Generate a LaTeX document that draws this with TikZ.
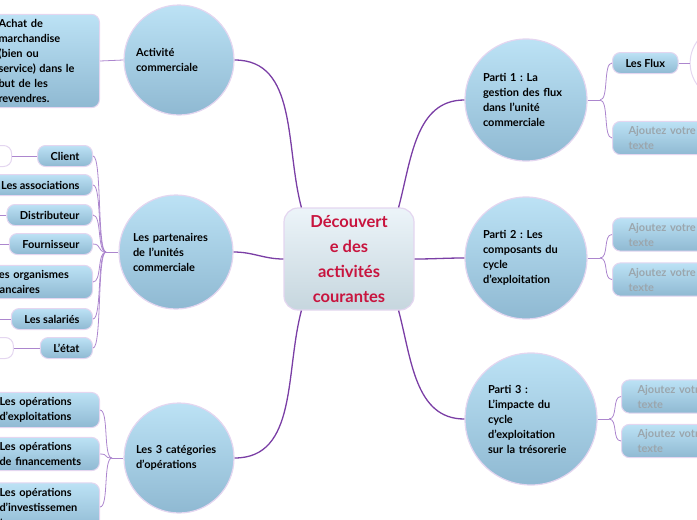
\documentclass[tikz,border=0pt]{standalone}
\usepackage{fontspec}
\setmainfont{Lato}
\frenchspacing
\usetikzlibrary{positioning}
\definecolor{BranchPurple}{RGB}{122,62,165}
\definecolor{TwigPurple}{RGB}{172,134,206}
\definecolor{SoftLavender}{RGB}{228,214,240}
\definecolor{SkyTop}{RGB}{188,226,245}
\definecolor{SkyBottom}{RGB}{143,185,210}
\definecolor{MistTop}{RGB}{236,244,249}
\definecolor{MistBottom}{RGB}{198,214,222}
\definecolor{TitleRed}{RGB}{200,20,62}
\definecolor{HintGrey}{RGB}{155,166,173}
\tikzset{
  central/.style={draw=SoftLavender,line width=1.2pt,rounded corners=14pt,
    top color=MistTop,bottom color=MistBottom,minimum width=130pt,
    minimum height=102pt,align=center,text=TitleRed,
    font=\fontsize{16.5}{25}\selectfont\bfseries},
  topic/.style={circle,draw=SoftLavender,line width=1.2pt,top color=SkyTop,
    bottom color=SkyBottom,inner sep=0pt,text width=86pt,align=left,
    font=\fontsize{11}{15}\selectfont\bfseries},
  leaf/.style={draw=SoftLavender,line width=1pt,rounded corners=8pt,
    top color=SkyTop,bottom color=SkyBottom,inner xsep=13pt,inner ysep=5pt,
    minimum height=21pt,font=\fontsize{11}{15}\selectfont\bfseries},
  hint/.style={leaf,inner xsep=16pt,text width=90pt,align=left,text=HintGrey},
  blank/.style={draw=SoftLavender,line width=1pt,fill=white,rounded corners=8pt,
    minimum height=21pt,minimum width=40pt},
  branch/.style={BranchPurple,line width=1.3pt},
  twig/.style={TwigPurple,line width=0.8pt}
}
\begin{document}
\begin{tikzpicture}[x=1pt,y=1pt]
  \useasboundingbox (0,0) rectangle (697,-520);
  \clip (0,0) rectangle (697,-520);

  \node[central] (root) at (349,-259) {Découvert\\e des\\activités\\courantes};

  \node[topic,minimum size=110pt] (act) at (179,-60) {Activité\\commerciale};
  \node[topic,minimum size=114pt] (part) at (176,-252) {Les partenaires\\de l'unités\\commerciale};
  \node[topic,minimum size=110pt] (cat) at (179,-458) {Les 3 catégories\\d'opérations};
  \node[topic,minimum size=122pt] (p1) at (526,-100) {Parti 1 : La\\gestion des flux\\dans l'unité\\commerciale};
  \node[topic,minimum size=122pt] (p2) at (526,-258) {Parti 2 : Les\\composants du\\cycle\\d'exploitation};
  \node[topic,minimum size=132pt] (p3) at (531,-419) {Parti 3 :\\L'impacte du\\cycle\\d'exploitation\\sur la trésorerie};

  \draw[branch] ([xshift=18pt]root.north west) to[out=105,in=0] (act.east);
  \draw[branch] (root.west) to[out=180,in=0] (part.east);
  \draw[branch] ([xshift=18pt]root.south west) to[out=-105,in=0] (cat.east);
  \draw[branch] ([xshift=-16pt]root.north east) to[out=75,in=180] (p1.west);
  \draw[branch] (root.east) to[out=0,in=180] (p2.west);
  \draw[branch] ([xshift=-16pt]root.south east) to[out=-75,in=180] (p3.west);

  % activite commerciale
  \node[leaf,anchor=east,text width=88pt,align=left] (achat) at (100,-61)
    {Achat de\\marchandise\\(bien ou\\service) dans le\\but de les\\revendres.};
  \draw[twig] (achat.east) -- (act.west);

  % partenaires
  \node[leaf,anchor=east] (client) at (93,-156) {Client};
  \node[leaf,anchor=east] (assoc) at (93,-185) {Les associations};
  \node[leaf,anchor=east] (distr) at (93,-215) {Distributeur};
  \node[leaf,anchor=east] (fourn) at (93,-244) {Fournisseur};
  \node[leaf,anchor=east,text width=86pt,align=left] (banc) at (93,-282) {Les organismes\\bancaires};
  \node[leaf,anchor=east] (salar) at (93,-319) {Les salariés};
  \node[leaf,anchor=east] (etat) at (93,-348) {L'état};
  \node[blank,left=25pt of client] (clientprev) {};
  \node[blank,left=26pt of etat] (etatprev) {};
  \coordinate (distrprev) at (-20,-215);
  \coordinate (fournprev) at (-20,-244);
  \coordinate (salarprev) at (-20,-319);
  \coordinate (partj) at (106,-252);
  \foreach \item in {client,assoc,distr,fourn,banc,salar,etat}
    \draw[twig] (\item.east) .. controls +(9,0) and +(-9,0) .. (partj);
  \draw[twig] (partj) -- (part.west);
  \foreach \item in {client,distr,fourn,salar,etat}
    \draw[twig] (\item.west) -- (\item prev);

  % categories
  \node[leaf,anchor=east,text width=87pt,align=left] (exploit) at (100,-410) {Les opérations\\d'exploitations};
  \node[leaf,anchor=east,text width=87pt,align=left] (finan) at (100,-454) {Les opérations\\de financements};
  \node[leaf,anchor=east,text width=87pt,align=left] (invest) at (100,-507) {Les opérations\\d'investissemen\\t};
  \coordinate (catj) at (112,-458);
  \foreach \item in {exploit,finan,invest}
    \draw[twig] (\item.east) .. controls +(9,0) and +(-9,0) .. (catj);
  \draw[twig] (catj) -- (cat.west);

  % parti 1
  \node[leaf,anchor=west] (flux) at (612,-63) {Les Flux};
  \node[blank,circle,minimum size=74pt,right=11pt of flux] (fluxnext) {};
  \draw[twig] (flux.east) -- (fluxnext.west);
  \node[hint,anchor=west] (p1a) at (612,-138) {Ajoutez votre\\texte};
  \coordinate (p1j) at (600,-100);
  \draw[twig] (p1.east) -- (p1j);
  \foreach \item in {flux,p1a}
    \draw[twig] (p1j) .. controls +(9,0) and +(-9,0) .. (\item.west);

  % parti 2
  \node[hint,anchor=west] (p2a) at (612,-234.5) {Ajoutez votre\\texte};
  \node[hint,anchor=west] (p2b) at (612,-279.5) {Ajoutez votre\\texte};
  \coordinate (p2j) at (600,-258);
  \draw[twig] (p2.east) -- (p2j);
  \foreach \item in {p2a,p2b}
    \draw[twig] (p2j) .. controls +(9,0) and +(-9,0) .. (\item.west);

  % parti 3
  \node[hint,anchor=west] (p3a) at (621,-396.5) {Ajoutez votre\\texte};
  \node[hint,anchor=west] (p3b) at (621,-441) {Ajoutez votre\\texte};
  \coordinate (p3j) at (609,-419);
  \draw[twig] (p3.east) -- (p3j);
  \foreach \item in {p3a,p3b}
    \draw[twig] (p3j) .. controls +(9,0) and +(-9,0) .. (\item.west);
\end{tikzpicture}
\end{document}
